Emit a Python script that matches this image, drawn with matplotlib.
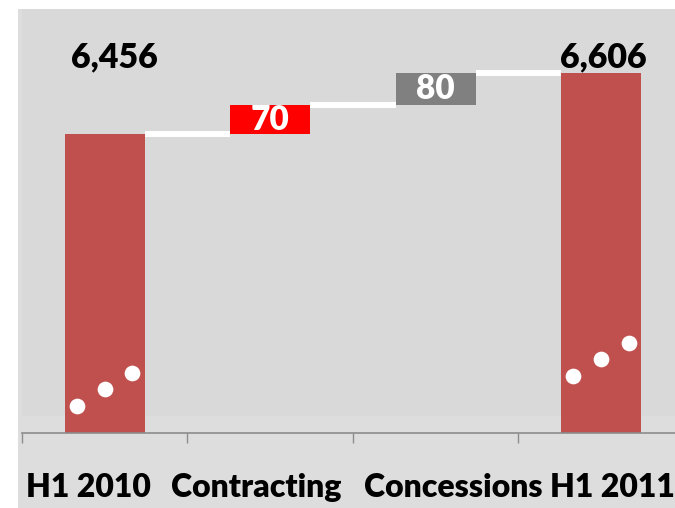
import matplotlib
matplotlib.use('Agg')
import matplotlib.pyplot as plt
from matplotlib.patches import Rectangle

# waterfall: H1 2010 -> H1 2011
categories = ['H1 2010', 'Contracting', 'Concessions', 'H1 2011']
start_value = 6456
changes = [70, 80]
end_value = 6606
value_labels = ['6,456', '70', '80', '6,606']

# axis is cut, the three dots mark the break on the total bars
axis_floor = 5721
axis_top = 6763
break_dots_total1 = [5788, 5828, 5868]
break_dots_total2 = [5862, 5902, 5943]
break_dots_dx = [-0.17, 0.0, 0.165]

bar_red = '#c0504d'
change_colors = ['#ff0000', '#808080']
font = 'Lato'
weight = 'heavy'

fig = plt.figure(figsize=(6.75, 5.08), dpi=100)
fig.patch.set_facecolor('white')
# chart area and plot area backgrounds
fig.patches.append(Rectangle((18 / 675, 0), 1, 1 - 9 / 508, transform=fig.transFigure,
                             facecolor='#dddddd', edgecolor='none', zorder=-10))
fig.patches.append(Rectangle((22 / 675, (508 - 415.7) / 508), 1, (415.7 - 9) / 508,
                             transform=fig.transFigure, facecolor='#d9d9d9',
                             edgecolor='none', zorder=-9))

ax = fig.add_axes([22 / 675, 75 / 508, 662 / 675, 424 / 508])
ax.patch.set_visible(False)

w = 0.485
levels = [start_value]
for c in changes:
    levels.append(levels[-1] + c)

# totals
ax.bar(0, start_value - axis_floor, bottom=axis_floor, width=w, color=bar_red, zorder=2)
ax.bar(3, end_value - axis_floor, bottom=axis_floor, width=w, color=bar_red, zorder=2)

# floating changes
for i, c in enumerate(changes):
    ax.bar(i + 1, c, bottom=levels[i], width=w, color=change_colors[i], zorder=2)
    ax.text(i + 1, levels[i] + c / 2, value_labels[i + 1], ha='center', va='center',
            color='white', fontsize=24, fontweight=weight, family=font, zorder=4)

# connectors
for i, lv in enumerate(levels):
    ax.plot([i + w / 2, i + 1 - w / 2], [lv, lv], color='white', lw=4.3,
            solid_capstyle='butt', zorder=3)

# break markers
for x0, ys in [(0, break_dots_total1), (3, break_dots_total2)]:
    ax.plot([x0 + d for d in break_dots_dx], ys, 'o', color='white', ms=11.3,
            mec='none', zorder=3)

# total labels
ax.text(0.056, 0.863, value_labels[0], transform=ax.get_xaxis_transform(),
        ha='center', va='baseline', fontsize=24.5, fontweight=weight, family=font)
ax.text(3.013, 0.863, value_labels[3], transform=ax.get_xaxis_transform(),
        ha='center', va='baseline', fontsize=24.5, fontweight=weight, family=font)

ax.set_xlim(-0.5, 3.5)
ax.set_ylim(axis_floor, axis_top)

for s in ['top', 'right', 'left']:
    ax.spines[s].set_visible(False)
ax.spines['bottom'].set_color('#8c8c8c')
ax.spines['bottom'].set_linewidth(1.2)
ax.set_yticks([])
ax.set_xticks([-0.5, 0.5, 1.5, 2.5, 3.5])
ax.set_xticklabels([])
ax.tick_params(axis='x', length=7.5, width=1, color='#8c8c8c', direction='out')

# category labels sit slightly off their ticks
label_shift = [-0.096, -0.087, 0.104, 0.065]
for i, (name, dx) in enumerate(zip(categories, label_shift)):
    ax.text(i + dx, -0.151, name, transform=ax.get_xaxis_transform(), ha='center',
            va='baseline', fontsize=23, fontweight=weight, family=font, clip_on=False)

fig.savefig('out.png', dpi=100)
